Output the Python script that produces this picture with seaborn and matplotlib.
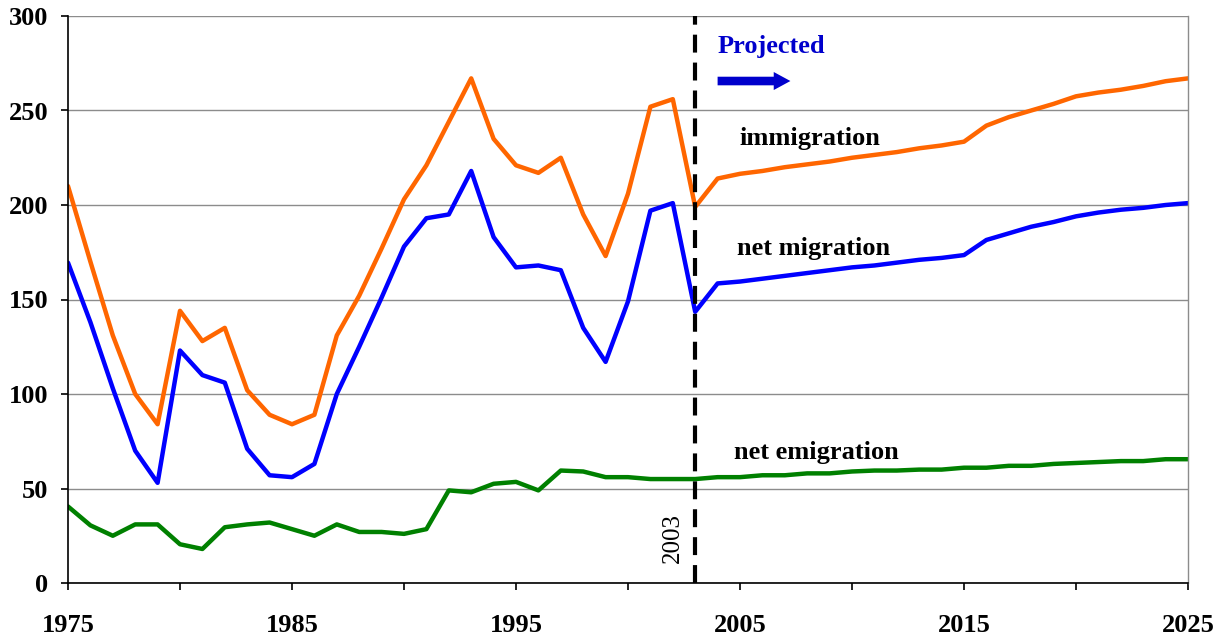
import numpy as np
import pandas as pd
import seaborn as sns
import matplotlib.pyplot as plt

sns.set_style("white")
plt.rcParams['font.family'] = ['Liberation Serif', 'DejaVu Serif']
plt.rcParams['text.color'] = 'black'
plt.rcParams['xtick.color'] = 'black'
plt.rcParams['ytick.color'] = 'black'

# data (thousands)
years = list(range(1975, 2026))
immigration = [210, 170, 131, 100, 84, 144, 128, 135, 102, 89,
               84, 89, 131, 152, 177, 203, 221, 244, 267, 235,
               221, 217, 225, 195, 173, 206, 252, 256, 199, 214,
               216.5, 218, 220, 221.5, 223, 225, 226.5, 228, 230, 231.5,
               233.5, 242, 246.5, 250, 253.5, 257.5, 259.5, 261, 263, 265.5,
               267]
net_migration = [169.5, 138, 103, 70, 53, 123, 110, 106, 71, 57,
                 56, 63, 100, 125, 151, 178, 193, 195, 218, 183,
                 167, 168, 165.5, 135, 117, 149, 197, 201, 143.5, 158.5,
                 159.5, 161, 162.5, 164, 165.5, 167, 168, 169.5, 171, 172,
                 173.5, 181.5, 185, 188.5, 191, 194, 196, 197.5, 198.5, 200,
                 201]
net_emigration = [40.5, 30.5, 25, 31, 31, 20.5, 18, 29.5, 31, 32,
                  28.5, 25, 31, 27, 27, 26, 28.5, 49, 48, 52.5,
                  53.5, 49, 59.5, 59, 56, 56, 55, 55, 55, 56,
                  56, 57, 57, 58, 58, 59, 59.5, 59.5, 60, 60,
                  61, 61, 62, 62, 63, 63.5, 64, 64.5, 64.5, 65.5,
                  65.5]

df = pd.DataFrame({"year": years, "immigration": immigration,
                   "net migration": net_migration, "net emigration": net_emigration})

fig, ax = plt.subplots(figsize=(12.24, 6.41), dpi=100)
fig.subplots_adjust(left=68/1224, right=1188/1224, top=1-16/641, bottom=1-583/641)

sns.lineplot(data=df, x="year", y="immigration", color="#FF6600", linewidth=3.2, ax=ax)
sns.lineplot(data=df, x="year", y="net migration", color="#0000FF", linewidth=3.2, ax=ax)
sns.lineplot(data=df, x="year", y="net emigration", color="#008000", linewidth=3.2, ax=ax)

# start of projection
ax.axvline(2003, color="black", linewidth=3, linestyle=(0, (4.3, 2.4)), zorder=5)

ax.set_xlim(1975, 2025)
ax.set_ylim(0, 300)
ax.set_yticks(range(0, 301, 50))
ax.set_xticks(range(1975, 2026, 5))
ax.set_xticklabels([str(y) if (y - 1975) % 10 == 0 else "" for y in range(1975, 2026, 5)])
ax.yaxis.grid(True, color="#8c8c8c", linewidth=1)
ax.set_axisbelow(True)
ax.set_xlabel("")
ax.set_ylabel("")

for side in ["left", "bottom"]:
    ax.spines[side].set_color("black")
    ax.spines[side].set_linewidth(1.2)
ax.spines["top"].set_visible(False)
ax.spines["right"].set_color("#8c8c8c")
ax.spines["right"].set_linewidth(1)

ax.tick_params(axis="both", which="both", direction="out", length=5, width=1.2,
               color="black", labelcolor="black", labelsize=19)
ax.tick_params(axis="x", pad=17, bottom=True)
ax.tick_params(axis="y", left=True, pad=9)
for lab in ax.get_xticklabels() + ax.get_yticklabels():
    lab.set_fontweight("bold")

ax.text(2008.1, 235, "immigration", fontsize=19, fontweight="bold", ha="center", va="center")
ax.text(2008.3, 177, "net migration", fontsize=19, fontweight="bold", ha="center", va="center")
ax.text(2008.4, 69, "net emigration", fontsize=19, fontweight="bold", ha="center", va="center")
ax.text(2006.4, 284, "Projected", fontsize=19, fontweight="bold", color="#0000CC",
        ha="center", va="center")
ax.annotate("", xy=(2007.25, 265.6), xytext=(2004.0, 265.6),
            arrowprops=dict(arrowstyle="simple,head_width=1.3,head_length=1.2,tail_width=0.62",
                            color="#0000CC", lw=0, mutation_scale=10,
                            shrinkA=0, shrinkB=0))
ax.text(2002.0, 24, "2003", fontsize=18, rotation=90, ha="center", va="center")

fig.savefig("out.png", dpi=100)
